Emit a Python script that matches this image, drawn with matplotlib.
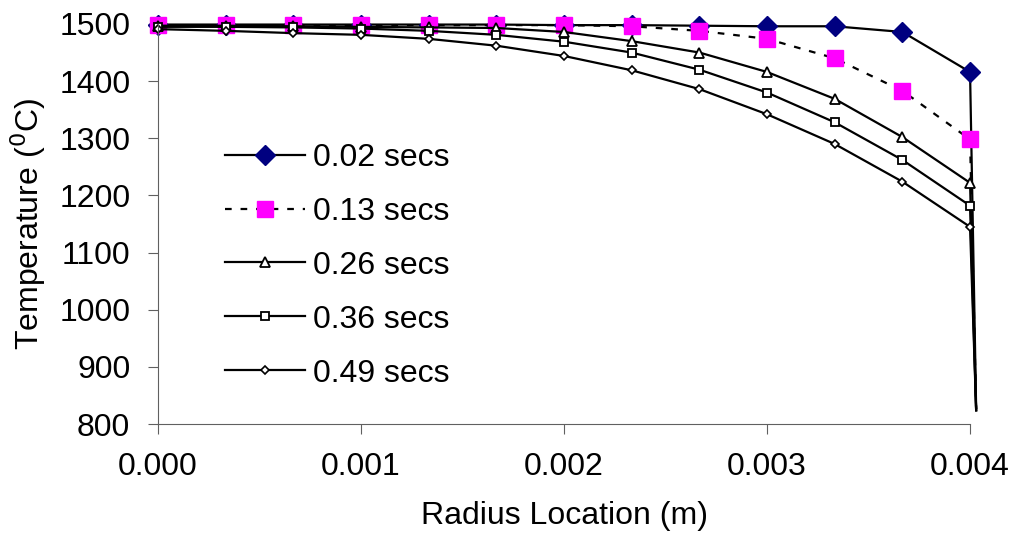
import numpy as np
import matplotlib.pyplot as plt

plt.rcParams['font.family'] = ['Liberation Sans', 'DejaVu Sans']

# radius locations (m): 13 nodes, plus the surface point where all curves drop
radius = [0.0, 0.000333, 0.000667, 0.001, 0.001333, 0.001667, 0.002,
          0.002333, 0.002667, 0.003, 0.003333, 0.003667, 0.004, 0.00403]

t_002 = [1499, 1499, 1499, 1499, 1499, 1499, 1498, 1498, 1497, 1496, 1496, 1486, 1416, 828]
t_013 = [1498, 1498, 1498, 1498, 1498, 1498, 1498, 1496, 1488, 1474, 1440, 1383, 1298, 826]
t_026 = [1497, 1497, 1496, 1495, 1494, 1493, 1486, 1470, 1450, 1416, 1369, 1302, 1222, 824]
t_036 = [1495, 1495, 1494, 1492, 1488, 1481, 1469, 1450, 1420, 1380, 1328, 1262, 1182, 824]
t_049 = [1491, 1488, 1484, 1481, 1474, 1462, 1444, 1419, 1386, 1342, 1290, 1224, 1145, 824]

labels = ['0.02 secs', '0.13 secs', '0.26 secs', '0.36 secs', '0.49 secs']

fs = 23

fig = plt.figure(figsize=(10.13, 5.33), dpi=100)
ax = fig.add_axes([0.156, 0.2045, 0.8016, 0.7505])

mk = list(range(13))  # no marker on the surface point
ax.plot(radius, t_002, color='black', lw=1.6, marker='D', ms=10,
        mfc='#000080', mec='#000080', markevery=mk, label=labels[0])
ax.plot(radius, t_013, color='black', lw=1.6, dashes=(3, 4), marker='s', ms=11,
        mfc='#ff00ff', mec='#ff00ff', markevery=mk, label=labels[1])
ax.plot(radius, t_026, color='black', lw=1.6, marker='^', ms=6.5,
        mfc='white', mec='black', mew=1.3, markevery=mk, label=labels[2])
ax.plot(radius, t_036, color='black', lw=1.6, marker='s', ms=6,
        mfc='white', mec='black', mew=1.3, markevery=mk, label=labels[3])
ax.plot(radius, t_049, color='black', lw=1.6, marker='D', ms=4.5,
        mfc='white', mec='black', mew=1.2, markevery=mk, label=labels[4])

ax.set_xlim(0, 0.004)
ax.set_ylim(800, 1500)
ax.set_xticks([0, 0.001, 0.002, 0.003, 0.004])
ax.set_xticklabels(['0.000', '0.001', '0.002', '0.003', '0.004'])
ax.set_yticks(np.arange(800, 1501, 100))
for line in ax.get_lines():
    line.set_clip_on(False)

ax.spines['top'].set_visible(False)
ax.spines['right'].set_visible(False)
ax.spines['left'].set_color('#606060')
ax.spines['bottom'].set_color('#606060')
ax.tick_params(axis='both', labelsize=fs, length=7, color='#606060', direction='out')
ax.tick_params(axis='x', pad=13)
ax.tick_params(axis='y', pad=13)

ax.set_xlabel('Radius Location (m)', fontsize=fs, labelpad=14)
ax.set_ylabel('Temperature ($^{0}$C)', fontsize=fs, labelpad=8)

leg = ax.legend(loc='upper left', bbox_to_anchor=(0.047, 0.775), frameon=False,
                fontsize=fs, handlelength=2.5, labelspacing=0.75, handletextpad=0.25)

fig.savefig('out.png', dpi=100)
